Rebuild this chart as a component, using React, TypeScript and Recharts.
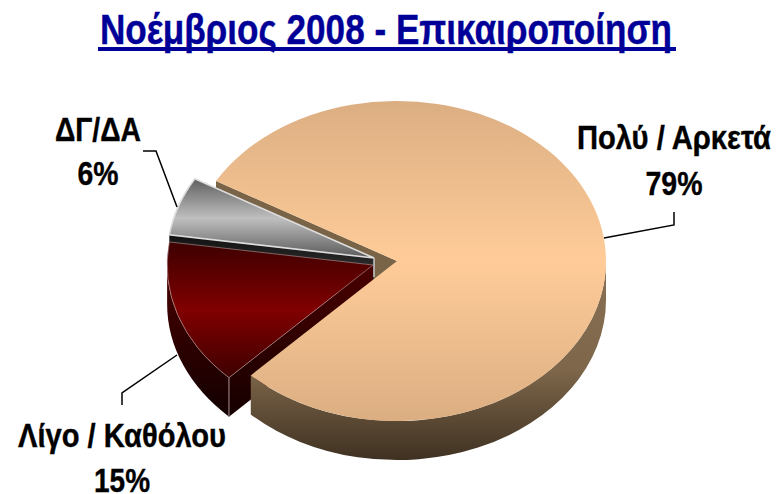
import React from 'react';
import { PieChart, Pie } from 'recharts';

const titleText = 'Νοέμβριος 2008 - Επικαιροποίηση';
const categories = ['Πολύ / Αρκετά', 'Λίγο / Καθόλου', 'ΔΓ/ΔΑ'];
const shares = [79, 15, 6];

const data = categories.map((name, i) => ({ name, value: shares[i] }));

// pie is drawn as a tilted disc, recharts only gives us the angles
const TILT = 0.766;
const DEPTH = 39;
const CX = 397;
const CY = 261;
const RADIUS = 209;
const FONT = "'Liberation Sans', Arial, sans-serif";

const explode: Record<string, [number, number, number]> = {
  'Πολύ / Αρκετά': [0, 0, 1],
  'Λίγο / Καθόλου': [-24, 4, 0.985],
  'ΔΓ/ΔΑ': [-23, -3, 0.99],
};

const looks: Record<string, any> = {
  'Πολύ / Αρκετά': { top: 'url(#bigTop)', wall: 'url(#bigWall)', stroke: 'none', edge: 0 },
  'Λίγο / Καθόλου': { top: 'url(#redTop)', wall: 'url(#redWall)', face: 'url(#redFace)', stroke: '#b79a9a', edge: 0.6 },
  'ΔΓ/ΔΑ': { top: 'url(#greyTop)', wall: '#222222', face: 'url(#greyFace)', stroke: '#dddddd', edge: 1.6 },
};

const labelLayout: Record<string, any> = {
  'Πολύ / Αρκετά': {
    x: 674, y: [149, 195], width: [194, 57],
    leader: '604,238 674,225 674,212',
  },
  'Λίγο / Καθόλου': {
    x: 122, y: [447, 492], width: [208, 56],
    leader: '177,355 122,393 122,405',
  },
  'ΔΓ/ΔΑ': {
    x: 98, y: [141, 185], width: [86, 41],
    leader: '143,151 156,151 177,207',
  },
};

const point = (cx: number, cy: number, r: number, deg: number): [number, number] => {
  const rad = (deg * Math.PI) / 180;
  return [cx + r * Math.cos(rad), cy - r * TILT * Math.sin(rad)];
};

const arcTo = (r: number, from: number, to: number, end: [number, number]) =>
  `A ${r} ${r * TILT} 0 ${Math.abs(from - to) > 180 ? 1 : 0} ${from > to ? 1 : 0} ${end[0]} ${end[1]}`;

const topPath = (cx: number, cy: number, r: number, a: number, b: number) => {
  const p1 = point(cx, cy, r, a);
  const p2 = point(cx, cy, r, b);
  return `M ${cx} ${cy} L ${p1[0]} ${p1[1]} ${arcTo(r, a, b, p2)} Z`;
};

// outer rim, only the part of the arc facing the viewer
const rimPath = (cx: number, cy: number, r: number, a: number, b: number) => {
  const from = Math.min(a, 0);
  const to = Math.max(b, -180);
  if (from <= to) return undefined;
  const p1 = point(cx, cy, r, from);
  const p2 = point(cx, cy, r, to);
  return `M ${p1[0]} ${p1[1]} ${arcTo(r, from, to, p2)} L ${p2[0]} ${p2[1] + DEPTH} ${arcTo(r, to, from, [p1[0], p1[1] + DEPTH])} Z`;
};

const cutPath = (cx: number, cy: number, r: number, a: number) => {
  const p = point(cx, cy, r, a);
  return `M ${cx} ${cy} L ${p[0]} ${p[1]} L ${p[0]} ${p[1] + DEPTH} L ${cx} ${cy + DEPTH} Z`;
};

const layerShape = (layer: string) => (props: any) => {
  const { name, cx, cy, outerRadius, startAngle, endAngle } = props;
  const [dx, dy, shrink] = explode[name];
  const x = cx + dx;
  const y = cy + dy;
  const r = outerRadius * shrink;
  const look = looks[name];

  if (layer === 'back') {
    if (name !== categories[0]) return <g />;
    return <path d={cutPath(x, y, r, startAngle)} fill="#7a6448" />;
  }
  if (layer === 'grey') {
    if (name !== categories[2]) return <g />;
    return (
      <g>
        <path d={cutPath(x, y, r, startAngle)} fill={look.face} />
        <path d={topPath(x, y, r, startAngle, endAngle)} fill={look.top} stroke={look.stroke} strokeWidth={look.edge} />
        <line x1={x} y1={y} x2={x} y2={y + 19} stroke="#c8c8c8" strokeWidth={1.5} />
      </g>
    );
  }
  if (layer === 'red') {
    if (name !== categories[1]) return <g />;
    const corner = point(x, y, r, startAngle);
    return (
      <g>
        <path d={rimPath(x, y, r, startAngle, endAngle)} fill={look.wall} />
        <path d={cutPath(x, y, r, startAngle)} fill={look.face} />
        <line x1={corner[0]} y1={corner[1]} x2={corner[0]} y2={corner[1] + DEPTH} stroke="#a89090" strokeWidth={1} />
        <path d={topPath(x, y, r, startAngle, endAngle)} fill={look.top} stroke={look.stroke} strokeWidth={look.edge} />
      </g>
    );
  }
  if (name !== categories[0]) return <g />;
  return (
    <g>
      <path d={rimPath(x, y, r, startAngle, endAngle)} fill={look.wall} />
      <path d={topPath(x, y, r, startAngle, endAngle)} fill={look.top} />
    </g>
  );
};

// text in the reference is squeezed sideways, so scale first and fit with textLength
const squeezed = (line: string, x: number, y: number, width: number, size: number, squeeze: number, fill: string) => (
  <text
    key={line}
    transform={`translate(${x} ${y}) scale(${squeeze} 1)`}
    textAnchor="middle"
    textLength={width / squeeze}
    lengthAdjust="spacingAndGlyphs"
    fontFamily={FONT}
    fontWeight="bold"
    fontSize={size}
    stroke={fill}
    strokeWidth={0.4}
    fill={fill}
  >
    {line}
  </text>
);

const renderLabel = (props: any) => {
  const place = labelLayout[props.name];
  const lines = [props.name, `${props.value}%`];
  return (
    <g>
      <polyline points={place.leader} fill="none" stroke="#000000" strokeWidth={1.5} />
      {lines.map((line, i) => squeezed(line, place.x, place.y[i], place.width[i], 34, 0.85, '#000000'))}
    </g>
  );
};

const stops = (id: string, colors: [string, string][]) => (
  <linearGradient id={id} x1="0" y1="0" x2="0" y2="1">
    {colors.map(([offset, color]) => (
      <stop key={offset} offset={offset} stopColor={color} />
    ))}
  </linearGradient>
);

const pieProps = {
  data,
  dataKey: 'value',
  nameKey: 'name',
  cx: CX,
  cy: CY,
  outerRadius: RADIUS,
  startAngle: 150,
  endAngle: -210,
  stroke: 'none',
  isAnimationActive: false,
  legendType: 'none' as const,
};

export default function App() {
  return (
    <div style={{ position: 'absolute', left: 0, top: 0, width: 778, height: 494 }}>
      <PieChart width={778} height={494} margin={{ top: 0, right: 0, bottom: 0, left: 0 }}>
        <defs>
          {stops('bigTop', [['0', '#dbae82'], ['0.5', '#ffcc99'], ['1', '#dbae82']])}
          {stops('bigWall', [['0', '#8a7055'], ['0.55', '#7d664a'], ['1', '#3f3122']])}
          {stops('redTop', [['0', '#3d0000'], ['0.5', '#800000'], ['1', '#3d0000']])}
          {stops('redWall', [['0', '#4a0000'], ['1', '#120000']])}
          {stops('redFace', [['0', '#4a0000'], ['1', '#150000']])}
          {stops('greyTop', [['0', '#5f5f5f'], ['0.5', '#bfbfbf'], ['1', '#5a5a5a']])}
          {stops('greyFace', [['0', '#111111'], ['1', '#444444']])}
        </defs>
        <Pie {...pieProps} shape={layerShape('back')} />
        <Pie {...pieProps} shape={layerShape('grey')} />
        <Pie {...pieProps} shape={layerShape('red')} />
        <Pie {...pieProps} shape={layerShape('big')} label={renderLabel} labelLine={false} />
        {squeezed(titleText, 386, 44, 572, 42, 0.85, '#000099')}
        <rect x={98} y={47} width={578} height={4} fill="#000099" />
      </PieChart>
    </div>
  );
}
